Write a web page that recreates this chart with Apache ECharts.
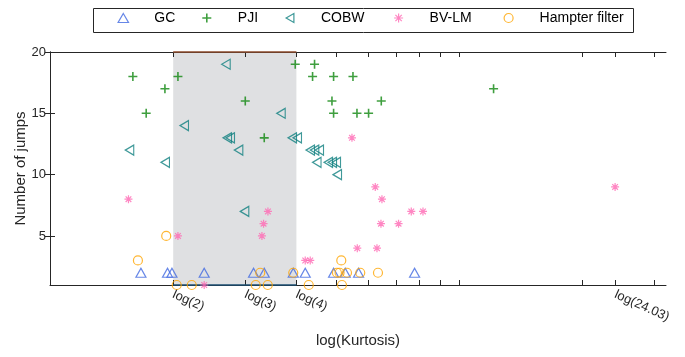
<!DOCTYPE html>
<html>
<head>
<meta charset="utf-8">
<script src="https://cdn.jsdelivr.net/npm/echarts@6/dist/echarts.min.js"></script>
<style>
  html, body { margin: 0; padding: 0; background: #ffffff; }
  #chart { width: 685px; height: 357px; }
</style>
</head>
<body>
<div id="chart"></div>
<script>
// Kurtosis of each signal and the number of jumps each method detected in it
const gcKurtosis = [1.668, 1.937, 1.986, 2.381, 3.143, 3.338, 3.930, 4.204, 4.931, 5.266, 5.675, 7.777];
const gcJumps    = [2, 2, 2, 2, 2, 2, 2, 2, 2, 2, 2, 2];

const pjiKurtosis = [1.594, 1.718, 1.909, 2.054, 3.000, 3.338, 3.974, 4.381, 4.430, 4.886, 4.931, 4.931, 5.499, 5.624, 6.004, 6.448, 12.13];
const pjiJumps    = [18, 15, 17, 18, 16, 13, 19, 18, 19, 16, 18, 15, 18, 15, 15, 16, 17];

const cobwKurtosis = [1.564, 1.912, 2.128, 2.691, 2.711, 2.757, 2.889, 2.988, 3.667, 3.908, 4.019, 4.324, 4.430, 4.549, 4.486, 4.786, 4.895, 5.006, 5.034];
const cobwJumps    = [12, 11, 14, 19, 13, 13, 12, 7, 15, 13, 13, 12, 12, 12, 11, 11, 11, 11, 10];

const bvlmKurtosis = [1.555, 2.054, 2.381, 3.295, 3.325, 3.408, 4.204, 4.324, 5.468, 5.634, 6.234, 6.294, 6.437, 6.473, 7.107, 7.634, 8.154, 24.03];
const bvlmJumps    = [8, 5, 1, 5, 6, 7, 3, 3, 13, 4, 9, 4, 6, 8, 6, 7, 7, 9];

const hampterKurtosis = [1.640, 1.923, 2.040, 2.220, 3.182, 3.264, 3.405, 3.930, 4.288, 5.025, 5.100, 5.149, 5.169, 5.317, 5.729, 6.330];
const hampterJumps    = [3, 5, 1, 1, 1, 2, 1, 2, 1, 2, 2, 3, 1, 2, 2, 2];

// Axis ticks and labels (kurtosis values, shown on a log scale)
const xTickKurtosis  = [2, 3, 4, 5, 6, 7, 8, 9, 10, 20, 24.03, 30];
const xLabelKurtosis = [2, 3, 4, 24.03];
const xLabelText     = ['log(2)', 'log(3)', 'log(4)', 'log(24.03)'];
const yTicks         = [5, 10, 15, 20];
const kurtosisRange  = [1, 32];
const jumpRange      = [1, 20];
const bandKurtosis   = [2, 4];

const methodNames = ['GC', 'PJI', 'COBW', 'BV-LM', 'Hampter filter'];

const ln = Math.log;
const toPoints = (k, j) => k.map((v, i) => [ln(v), j[i]]);

const FONT = 'Liberation Sans, Arial, Helvetica, sans-serif';
const AXIS = '#262626';

const SYM = {
  triUp:   'path://M5,0L10,8.66L0,8.66Z',
  triLeft: 'path://M0,5L8.66,0L8.66,10Z',
  plus:    'path://M5,0L5,10M0,5L10,5',
  star:    'path://M5,0L5,10M0,5L10,5M1.46,1.46L8.54,8.54M8.54,1.46L1.46,8.54'
};

const STYLE = [
  { symbol: SYM.triUp,   size: [10, 9],  color: '#4169e1', bw: 1.2 },
  { symbol: SYM.plus,    size: [9, 9],   color: '#0f870f', bw: 1.6 },
  { symbol: SYM.triLeft, size: [8.5, 10], color: '#0f8080', bw: 1.2 },
  { symbol: SYM.star,    size: [8, 8],   color: '#ff69b4', bw: 1.2 },
  { symbol: 'circle',    size: 9,        color: '#ffa500', bw: 1.2 }
];

// Legend icon centres along the top strip
const legendIconX = [123, 207, 291, 399, 509];

function hollow(color, w) {
  return { color: 'rgba(0,0,0,0)', borderColor: color, borderWidth: w || 1.2 };
}

function scatter(i, data) {
  const s = STYLE[i];
  return {
    name: methodNames[i], type: 'scatter', data: data, symbol: s.symbol, symbolSize: s.size,
    itemStyle: hollow(s.color, s.bw), clip: false, z: 5,
    emphasis: { disabled: true }
  };
}

const xTicksLn = xTickKurtosis.map(ln);
const xLabelsLn = xLabelKurtosis.map(ln);

function xAxisBase(pos) {
  return {
    type: 'value', position: pos,
    min: ln(kurtosisRange[0]), max: ln(kurtosisRange[1]),
    axisLine: { show: true, lineStyle: { color: AXIS, width: 1 } },
    axisTick: { show: true, inside: true, length: 5, customValues: xTicksLn, lineStyle: { color: AXIS } },
    splitLine: { show: false },
    z: 3
  };
}

function yAxisBase(pos) {
  return {
    type: 'value', position: pos,
    min: jumpRange[0], max: jumpRange[1],
    axisLine: { show: true, lineStyle: { color: AXIS, width: 1 } },
    axisTick: { show: true, inside: true, length: 5, customValues: yTicks, lineStyle: { color: AXIS } },
    splitLine: { show: false },
    z: 3
  };
}

const xBottom = Object.assign(xAxisBase('bottom'), {
  name: 'log(Kurtosis)', nameLocation: 'middle', nameGap: 48, nameMoveOverlap: false,
  nameTextStyle: { fontFamily: FONT, fontSize: 15, color: AXIS },
  axisLabel: {
    show: true, customValues: xLabelsLn, rotate: -24, margin: 9,
    fontFamily: FONT, fontSize: 13, color: AXIS,
    formatter: function (v) {
      const i = xLabelsLn.findIndex(function (t) { return Math.abs(t - v) < 1e-6; });
      return i >= 0 ? xLabelText[i] : '';
    }
  }
});
const xTop = Object.assign(xAxisBase('top'), { axisLabel: { show: false } });

const yLeft = Object.assign(yAxisBase('left'), {
  name: 'Number of jumps', nameLocation: 'middle', nameGap: 22, nameMoveOverlap: false,
  nameTextStyle: { fontFamily: FONT, fontSize: 15, color: AXIS },
  axisLabel: { show: true, customValues: yTicks, margin: 4, fontFamily: FONT, fontSize: 13, color: AXIS }
});
const yRight = Object.assign(yAxisBase('right'), { axisLabel: { show: false } });

const band = {
  name: 'band', type: 'scatter', data: [], z: 1, silent: true,
  markArea: {
    silent: true, itemStyle: { color: '#dfe0e2' },
    data: [[{ xAxis: ln(bandKurtosis[0]) }, { xAxis: ln(bandKurtosis[1]) }]]
  }
};
const bandEdges = {
  name: 'bandEdges', type: 'scatter', data: [], z: 4, silent: true,
  markLine: {
    silent: true, symbol: ['none', 'none'], label: { show: false },
    data: [
      [{ coord: [ln(bandKurtosis[0]), jumpRange[1]], lineStyle: { color: '#8b4a2b', width: 1.5, type: 'solid' } },
       { coord: [ln(bandKurtosis[1]), jumpRange[1]] }],
      [{ coord: [ln(bandKurtosis[0]), jumpRange[0]], lineStyle: { color: '#1d4f72', width: 1.5, type: 'solid' } },
       { coord: [ln(bandKurtosis[1]), jumpRange[0]] }]
    ]
  }
};

// One legend block per method so each entry sits at its own column
const legends = methodNames.map(function (name, i) {
  const s = STYLE[i];
  return {
    data: [{ name: name, icon: s.symbol, itemStyle: hollow(s.color, s.bw) }],
    left: legendIconX[i] - 4.5 - 1, top: 11, padding: 0,
    itemWidth: 52, itemHeight: 9,
    textStyle: { fontFamily: FONT, fontSize: 14, color: '#000000' },
    selectedMode: false
  };
});

const option = {
  animation: false,
  backgroundColor: '#ffffff',
  textStyle: { fontFamily: FONT },
  grid: { left: 50, right: 19, top: 52, bottom: 72, containLabel: false, outerBoundsMode: 'none' },
  graphic: [{
    type: 'rect', left: 91, top: 6, silent: true,
    shape: { width: 540, height: 24 },
    style: { fill: 'none', stroke: '#262626', lineWidth: 1 }
  }],
  legend: legends,
  xAxis: [xBottom, xTop],
  yAxis: [yLeft, yRight],
  series: [
    band,
    bandEdges,
    scatter(0, toPoints(gcKurtosis, gcJumps)),
    scatter(1, toPoints(pjiKurtosis, pjiJumps)),
    scatter(2, toPoints(cobwKurtosis, cobwJumps)),
    scatter(3, toPoints(bvlmKurtosis, bvlmJumps)),
    scatter(4, toPoints(hampterKurtosis, hampterJumps))
  ]
};

const chart = echarts.init(document.getElementById('chart'), null, { renderer: 'canvas' });
chart.setOption(option);
</script>
</body>
</html>
